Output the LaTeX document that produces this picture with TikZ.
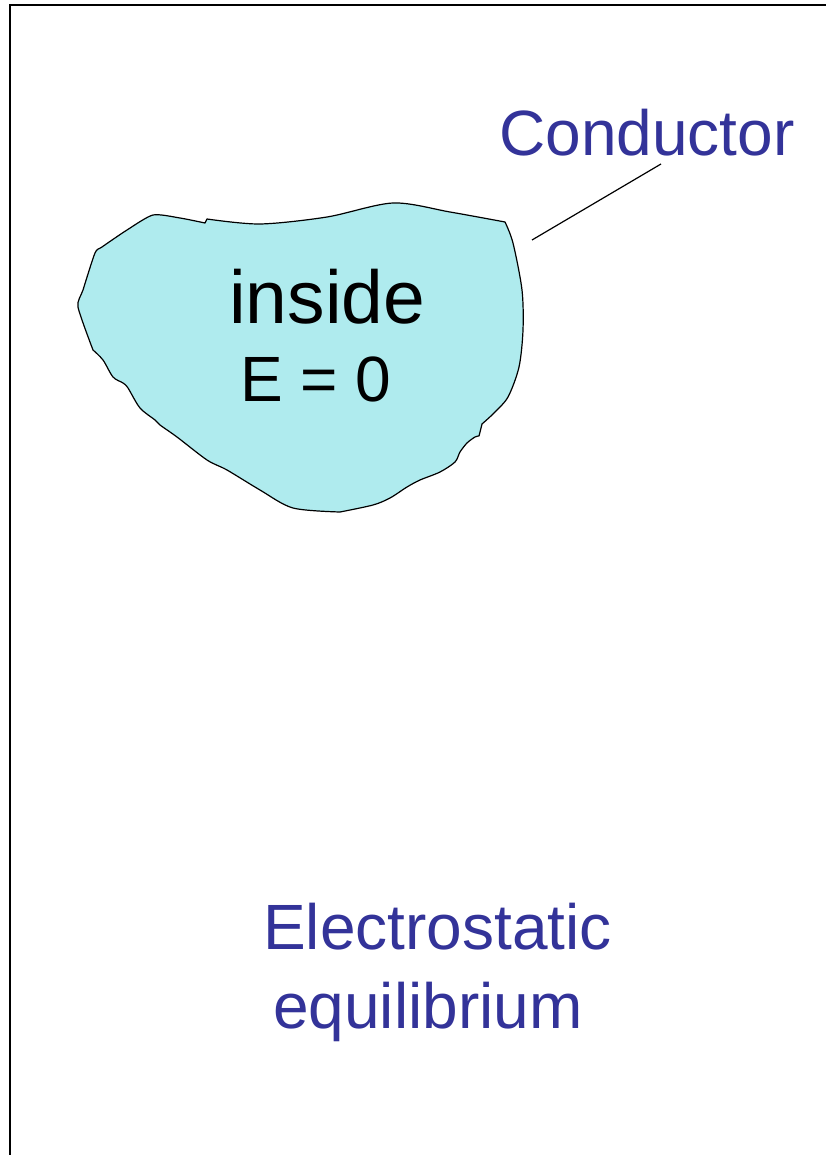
\documentclass[tikz,border=0pt]{standalone}
\usepackage{fontspec}
\setmainfont{Liberation Sans}
\definecolor{txtblue}{RGB}{51,51,153}
\definecolor{blobfill}{RGB}{175,235,238}
\begin{document}
\begin{tikzpicture}[x=1pt,y=-1pt,
  frameline/.style={line width=1.7pt,line join=miter},
  blob/.style={draw=black,line width=1.2pt,fill=blobfill,line join=round},
  leader/.style={draw=black,line width=1.2pt},
  bluetext/.style={text=txtblue,inner sep=0pt,anchor=base west,font=\fontsize{64}{70}\selectfont},
  blacktext/.style={text=black,inner sep=0pt,anchor=base west}]
\useasboundingbox (0,0) rectangle (826,1155);
\clip (0,0) rectangle (826,1155);
% frame
\draw[frameline] (10,1160) -- (10,5) -- (830,5);
% conductor blob
\draw[blob] (205,223) -- (207,219)
  -- plot[smooth,tension=0.5] coordinates {(207,219) (260,224) (327,217) (393,203) (450,212) (505,222)}
  -- plot[smooth,tension=0.5] coordinates {(505,222) (513,243) (522,290) (523,330) (519,367) (508,397) (494,413) (482,424)}
  -- (479,436)
  -- plot[smooth,tension=0.5] coordinates {(479,436) (475,437) (467,443) (460,452) (455,462) (440,472) (420,480) (407,487) (390,498) (373,505) (340,512)}
  -- plot[smooth,tension=0.5] coordinates {(340,512) (293,508) (260,490) (227,470) (207,460) (177,437) (160,425) (155,420) (140,408) (128,388) (123,383) (113,377) (103,360) (93,350)}
  -- plot[smooth,tension=0.4] coordinates {(93,350) (78,307) (83,290) (95,253) (102,247) (127,230) (153,215) (180,218) (205,223)}
  -- cycle;
% texts
\node[blacktext,font=\fontsize{75}{80}\selectfont] (inside) at (229,323) {inside};
\node[blacktext,font=\fontsize{64}{70}\selectfont] (ezero) at (240,401) {E = 0};
\node[bluetext] (cond) at (499,156) {Conductor};
\node[bluetext] (electro) at (263,949) {Electrostatic};
\node[bluetext] (equil) at (273,1028) {equilibrium};
% leader line
\coordinate (ltop) at (661,164);
\coordinate (lbot) at (532,240);
\draw[leader] (ltop) -- (lbot);
\end{tikzpicture}
\end{document}
